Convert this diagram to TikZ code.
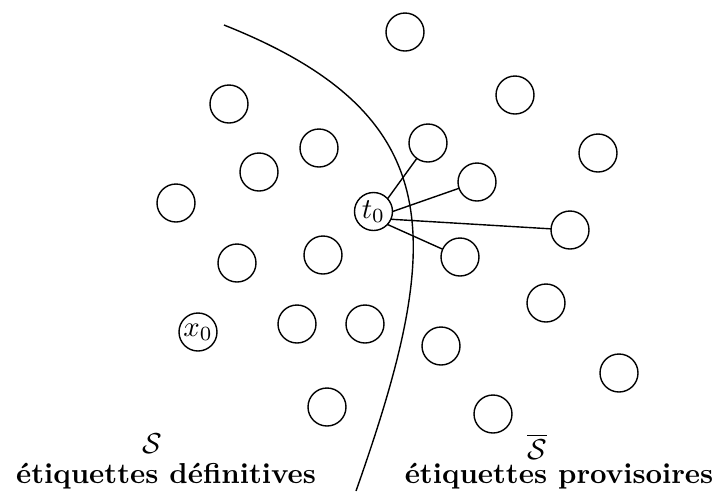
\documentclass[tikz,border=0pt]{standalone}
\usepackage{fontspec}
\usetikzlibrary{backgrounds}
\begin{document}
\begin{tikzpicture}[x=1pt,y=-1pt,
  vtx/.style={draw, circle, line width=1.4pt, minimum size=38pt, inner sep=0pt, fill=white},
  edge/.style={line width=1.4pt},
  lbl/.style={inner sep=0pt, anchor=base}]
\useasboundingbox (0,0) rectangle (716,491);
% vertices
\node[vtx] (c1)  at (405,32)  {};
\node[vtx] (c2)  at (229,104) {};
\node[vtx] (c3)  at (515,95)  {};
\node[vtx] (c4)  at (319,148) {};
\node[vtx] (c5)  at (428,143) {};
\node[vtx] (c6)  at (259,172) {};
\node[vtx] (c7)  at (598,153) {};
\node[vtx] (c8)  at (477,182) {};
\node[vtx] (c9)  at (176,203) {};
\node[vtx] (t0)  at (373.5,211.5) {\scalebox{2.88}{$t_0$}};
\node[vtx] (c10) at (570,230) {};
\node[vtx] (c11) at (460,257) {};
\node[vtx] (c12) at (237,263) {};
\node[vtx] (c13) at (323,255) {};
\node[vtx] (c14) at (546,303) {};
\node[vtx] (x0)  at (198,332) {\scalebox{2.88}{$x_0$}};
\node[vtx] (c15) at (297,324) {};
\node[vtx] (c16) at (365,324) {};
\node[vtx] (c17) at (441,346) {};
\node[vtx] (c18) at (619,373) {};
\node[vtx] (c19) at (327,407) {};
\node[vtx] (c20) at (493,414) {};
% connectors from t0
\begin{scope}[on background layer]
\draw[edge] (t0.base) -- (c5.center);
\draw[edge] (t0.base) -- (c8.center);
\draw[edge] (t0.base) -- (c10.center);
\draw[edge] (t0.base) -- (c11.center);
\end{scope}
% separating curve
\draw[edge] (224,25) .. controls (451.9,115.7) and (444.2,241.1) .. (356,491);
% labels
\node[lbl] (sS) at (152,453) {\scalebox{2.88}{$\mathcal{S}$}};
\node[lbl] (lS) at (166,483) {\scalebox{2.88}{\bfseries étiquettes définitives}};
\node[lbl] (sSb) at (537,459) {\scalebox{2.88}{$\overline{\mathcal{S}}$}};
\node[lbl] (lSb) at (559,483) {\scalebox{2.88}{\bfseries étiquettes provisoires}};
\end{tikzpicture}
\end{document}
